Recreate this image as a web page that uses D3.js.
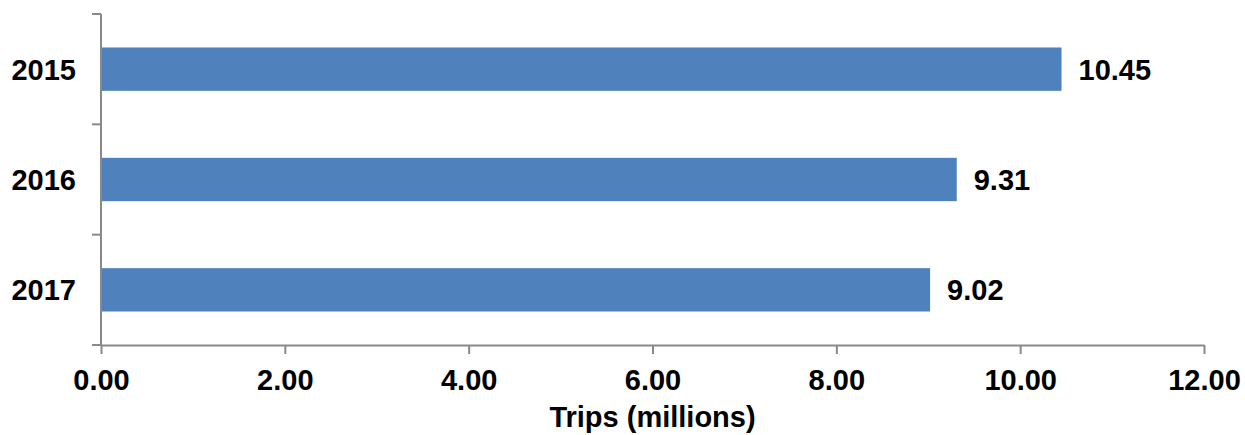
<!DOCTYPE html>
<html>
<head>
<meta charset="utf-8">
<script src="https://cdn.jsdelivr.net/npm/d3@7"></script>
<style>
  html, body { margin: 0; padding: 0; background: #fff; }
  svg { display: block; }
  text { font-family: "Liberation Sans", Arial, sans-serif; font-weight: bold; fill: #000; }
</style>
</head>
<body>
<script>
// Annual trips, in millions
const years = ["2015", "2016", "2017"];
const trips = [10.45, 9.31, 9.02];
const xTickValues = [0, 2, 4, 6, 8, 10, 12];
const axisTitle = "Trips (millions)";

const W = 1245, H = 435;
const plotLeft = 101, plotRight = 1204, plotTop = 14, plotBottom = 345;
const axisColor = "#898989";
const barColor = "#4F81BD";
const fontSize = 29;

const svg = d3.select("body").append("svg").attr("width", W).attr("height", H);

const x = d3.scaleLinear().domain([0, 12]).range([plotLeft, plotRight]);
const y = d3.scaleBand().domain(years).range([plotTop, plotBottom])
  .paddingInner(0.607).paddingOuter(0.3035);

// Bars
svg.append("g").selectAll("rect").data(years).join("rect")
  .attr("x", x(0))
  .attr("y", d => y(d))
  .attr("width", (d, i) => x(trips[i]) - x(0))
  .attr("height", y.bandwidth())
  .attr("fill", barColor);

// Value labels
svg.append("g").selectAll("text").data(years).join("text")
  .attr("x", (d, i) => x(trips[i]) + 17)
  .attr("y", d => y(d) + y.bandwidth() / 2)
  .attr("dy", "0.36em")
  .attr("font-size", fontSize)
  .text((d, i) => d3.format(".2f")(trips[i]));

// X axis
const xAxis = svg.append("g").attr("transform", `translate(0,${plotBottom})`)
  .call(d3.axisBottom(x).tickValues(xTickValues).tickSize(9).tickSizeOuter(0)
    .tickFormat(d3.format(".2f")));
xAxis.select(".domain").attr("stroke", axisColor).attr("stroke-width", 2);
xAxis.selectAll(".tick line").attr("stroke", axisColor).attr("stroke-width", 2);
xAxis.selectAll(".tick text")
  .attr("font-size", fontSize).attr("font-family", "Liberation Sans, Arial, sans-serif")
  .attr("font-weight", "bold").attr("fill", "#000")
  .attr("y", 0).attr("dy", 0)
  .attr("transform", "translate(0,45)");

// Y axis: line plus ticks at category boundaries
const yAxisG = svg.append("g");
yAxisG.append("line")
  .attr("x1", plotLeft).attr("x2", plotLeft)
  .attr("y1", plotTop).attr("y2", plotBottom + 1)
  .attr("stroke", axisColor).attr("stroke-width", 2);
const boundaries = d3.range(years.length + 1)
  .map(i => plotTop + i * (plotBottom - plotTop) / years.length);
yAxisG.selectAll("line.tick").data(boundaries).join("line")
  .attr("class", "tick")
  .attr("x1", plotLeft - 9).attr("x2", plotLeft)
  .attr("y1", d => d).attr("y2", d => d)
  .attr("stroke", axisColor).attr("stroke-width", 2);

// Category labels
svg.append("g").selectAll("text").data(years).join("text")
  .attr("x", plotLeft - 25)
  .attr("y", d => y(d) + y.bandwidth() / 2)
  .attr("dy", "0.36em")
  .attr("text-anchor", "end")
  .attr("font-size", fontSize)
  .text(d => d);

// Axis title
svg.append("text")
  .attr("x", x(6))
  .attr("y", 427)
  .attr("text-anchor", "middle")
  .attr("font-size", fontSize)
  .text(axisTitle);
</script>
</body>
</html>
